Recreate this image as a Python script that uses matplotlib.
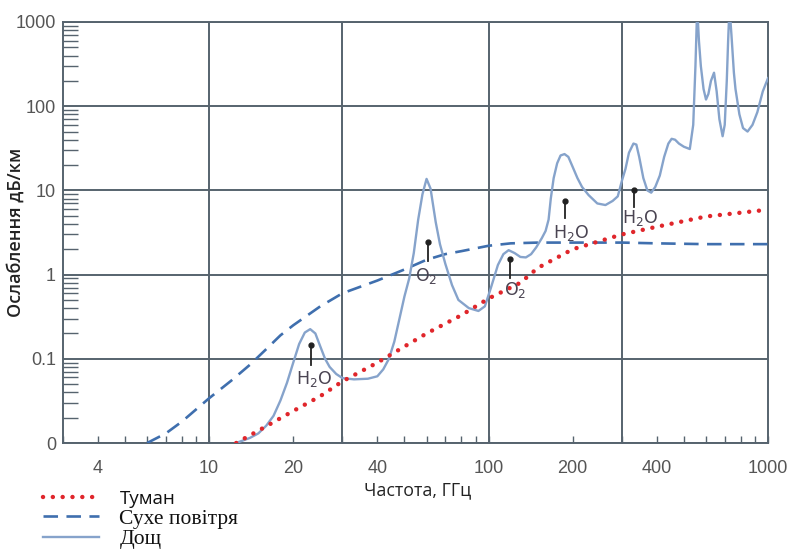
import matplotlib
matplotlib.use("Agg")
import matplotlib.pyplot as plt
from matplotlib.ticker import FixedLocator, LogLocator, NullFormatter

# frequency (GHz) / attenuation (dB/km)
fog_f = [12.5, 15, 20, 25, 30, 40, 50, 60, 80, 100, 130, 150, 200, 300, 400, 600, 1000]
fog_db = [0.01, 0.014, 0.024, 0.036, 0.054, 0.09, 0.14, 0.2, 0.33, 0.52, 0.8, 1.2,
          2.0, 3.0, 3.7, 4.9, 5.9]

dry_f = [6, 7, 8, 10, 12, 14, 16, 18, 20, 25, 30, 40, 50, 60, 70, 80, 100, 120,
         150, 200, 300, 400, 600, 1000]
dry_db = [0.01, 0.013, 0.018, 0.034, 0.055, 0.085, 0.13, 0.19, 0.25, 0.42, 0.6,
          0.85, 1.15, 1.5, 1.75, 1.9, 2.2, 2.35, 2.4, 2.4, 2.4, 2.35, 2.3, 2.3]

rain_f = [12.5, 14, 15, 16, 17, 18, 19, 20, 21, 22, 23, 24, 25, 26, 27, 28.5, 30,
          33, 37, 40, 42, 44, 46, 48, 50, 52, 54, 56, 58, 60, 62, 64.7, 67, 70,
          74, 78, 85, 92, 97, 102, 108, 113, 118, 124, 130, 136, 142, 148, 155,
          160, 164, 167, 171, 176, 181, 187, 193, 200, 208, 216, 228, 245, 262,
          278, 290, 300, 309, 318, 330, 338, 346, 358, 370, 382, 395, 410, 425,
          440, 452, 465, 480, 500, 525, 540, 550, 558, 566, 575, 588, 600, 612,
          625, 641, 655, 670, 688, 700, 712, 720, 728, 740, 755, 765, 790, 814,
          845, 880, 916, 958, 1000]
rain_db = [0.01, 0.0115, 0.013, 0.016, 0.021, 0.032, 0.052, 0.09, 0.15, 0.205,
           0.225, 0.2, 0.14, 0.1, 0.08, 0.066, 0.059, 0.057, 0.058, 0.062, 0.075,
           0.1, 0.16, 0.3, 0.55, 0.9, 1.8, 4.5, 9, 13.7, 10.5, 4.2, 2.3, 1.35,
           0.75, 0.5, 0.4, 0.37, 0.42, 0.7, 1.3, 1.75, 1.95, 1.8, 1.62, 1.6, 1.75,
           2.1, 2.7, 3.3, 4.5, 8, 14, 21, 26, 27, 25, 19, 14, 11, 8.8, 7.0, 6.7,
           7.5, 8.5, 13, 18, 28, 36, 35, 25, 14, 10, 9.4, 11, 15, 25, 36, 41, 40,
           36, 33, 31, 60, 300, 1500, 600, 300, 160, 120, 140, 200, 250, 150, 70,
           44, 60, 200, 600, 1500, 700, 250, 160, 80, 55, 50, 60, 85, 150, 215]

legend_labels = ["Туман", "Сухе повітря", "Дощ"]

x_tick_vals = [4, 10, 20, 40, 100, 200, 400, 1000]
y_tick_vals = [0.01, 0.1, 1, 10, 100, 1000]
y_tick_labels = ["0", "0.1", "1", "10", "100", "1000"]
grid_x = [10, 30, 100, 300]

# absorption-line markers: label, arrow x, arrow base/top, text position
line_names = [r"H$_\mathregular{2}$O", r"O$_\mathregular{2}$", r"O$_\mathregular{2}$",
              r"H$_\mathregular{2}$O", r"H$_\mathregular{2}$O"]
line_f = [23.2, 60.6, 119, 188, 331]
line_lo = [0.085, 1.46, 0.9, 4.7, 6.3]
line_hi = [0.146, 2.42, 1.54, 7.4, 10.0]
text_f = [23.7, 60, 125, 198, 350]
text_y = [0.057, 0.95, 0.65, 3.16, 4.7]

GRID = "#56636e"
plt.rcParams["mathtext.fontset"] = "dejavusans"

fig = plt.figure(figsize=(7.89, 5.51), dpi=100)
ax = fig.add_axes([63 / 789, 1 - 443 / 551, (768 - 63) / 789, (443 - 22) / 551])
ax.set_xscale("log")
ax.set_yscale("log")
ax.set_xlim(3, 1000)
ax.set_ylim(0.01, 1000)

for gx in grid_x:
    ax.axvline(gx, color=GRID, lw=1.4, zorder=1)
ax.yaxis.set_major_locator(FixedLocator(y_tick_vals))
ax.set_yticklabels(y_tick_labels)
ax.yaxis.set_minor_locator(LogLocator(base=10, subs=range(2, 10), numticks=20))
ax.yaxis.set_minor_formatter(NullFormatter())
ax.grid(axis="y", which="major", color=GRID, lw=1.4, zorder=1)
ax.set_axisbelow(True)

ax.xaxis.set_major_locator(FixedLocator(x_tick_vals))
ax.set_xticklabels([str(v) for v in x_tick_vals])
ax.xaxis.set_minor_locator(LogLocator(base=10, subs=range(2, 10), numticks=20))
ax.xaxis.set_minor_formatter(NullFormatter())

ax.tick_params(axis="y", which="major", length=0, pad=5)
ax.tick_params(axis="y", which="minor", direction="in", length=10.5, width=1.0, color=GRID)
ax.tick_params(axis="x", which="both", direction="in", length=5, width=1.0,
               color=GRID, pad=12)
for lbl in ax.get_xticklabels() + ax.get_yticklabels():
    lbl.set_fontfamily("Liberation Sans")
    lbl.set_fontsize(13)
    lbl.set_color("#555555")
for sp in ax.spines.values():
    sp.set_color(GRID)
    sp.set_linewidth(1.4)

ax.plot(fog_f, fog_db, color="#e0262b", lw=3.2, linestyle=(0, (0.01, 2.2)),
        dash_capstyle="round", label=legend_labels[0], zorder=4)
ax.plot(dry_f, dry_db, color="#3f6fae", lw=1.9, linestyle=(0, (5.5, 3.2)),
        label=legend_labels[1], zorder=3)
ax.plot(rain_f, rain_db, color="#86a3cb", lw=1.7, label=legend_labels[2], zorder=3)

for name, f, lo, hi, tf, ty in zip(line_names, line_f, line_lo, line_hi, text_f, text_y):
    ax.plot([f, f], [lo, hi], color="#222222", lw=1.3, zorder=5)
    ax.plot([f], [hi], marker="o", ms=3.5, color="#222222", zorder=5)
    ax.text(tf, ty, name, ha="center", va="center", fontsize=12.5, color="#4a4452",
            family="DejaVu Sans", zorder=5)

fig.text(16 / 789, 1 - 232 / 551, "Ослаблення дБ/км", rotation=90, ha="center",
         va="center", fontsize=13, family="Open Sans", fontweight="semibold",
         color="#222222")
fig.text(418 / 789, 1 - 490 / 551, "Частота, ГГц", ha="center", va="center",
         fontsize=12.8, family="Open Sans", color="#222222")

handles, labels = ax.get_legend_handles_labels()
leg = fig.legend(handles, labels, loc="upper left", bbox_to_anchor=(43 / 789, 1 - 489 / 551),
                 frameon=False, fontsize=15.5, handlelength=2.6, handletextpad=0.95,
                 labelspacing=0.02, borderpad=0, borderaxespad=0)
fams = ["Open Sans", "Liberation Serif", "Liberation Serif"]
for t, fam in zip(leg.get_texts(), fams):
    t.set_fontfamily(fam)
    t.set_color("#111111")
leg.get_texts()[0].set_fontsize(13.5)

fig.savefig("out.png", dpi=100)
